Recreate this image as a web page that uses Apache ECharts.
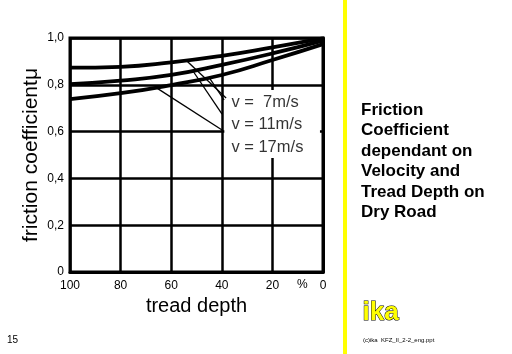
<!DOCTYPE html>
<html>
<head>
<meta charset="utf-8">
<script src="https://cdn.jsdelivr.net/npm/echarts@6/dist/echarts.min.js"></script>
<style>
  html, body { margin: 0; padding: 0; background: #fff; }
  #chart { width: 512px; height: 354px; }
</style>
</head>
<body>
<div id="chart"></div>
<script>
// tread depth in %
const treadDepth = [100, 80, 60, 40, 20, 0];
const mu7 = [0.873, 0.877, 0.896, 0.924, 0.960, 0.998];
const mu11 = [0.803, 0.818, 0.842, 0.885, 0.934, 0.989];
const mu17 = [0.739, 0.764, 0.799, 0.842, 0.906, 0.974];
const curveNames = ['v = 7m/s', 'v = 11m/s', 'v = 17m/s'];
const labelTexts = ['v =  7m/s', 'v = 11m/s', 'v = 17m/s'];
const labelAnchors = [[37, 0.725], [37, 0.632], [37, 0.534]];
// leader lines from the curves to the labels [[x0, y0], [x1, y1]]
const leaders = [
  [[53.8, 0.902], [38.3, 0.744]],
  [[45.1, 0.833], [39.1, 0.735]],
  [[51.4, 0.859], [39.9, 0.675]],
  [[66.4, 0.791], [39.9, 0.607]]
];
const yTicks = [0, 0.2, 0.4, 0.6, 0.8, 1.0];
const titleLines = ['Friction', 'Coefficient', 'dependant on', 'Velocity and', 'Tread Depth on', 'Dry Road'];

(function () {
  const font = '"Liberation Sans", Arial, sans-serif';
  const curves = [mu7, mu11, mu17];

  const series = curves.map((vals, i) => ({
    name: curveNames[i],
    type: 'line',
    smooth: true,
    showSymbol: false,
    z: 5,
    lineStyle: { color: '#000', width: 3.8 },
    data: treadDepth.map((t, j) => [t, vals[j]])
  }));

  leaders.forEach(seg => {
    series.push({
      type: 'line',
      showSymbol: false,
      silent: true,
      z: 4,
      lineStyle: { color: '#000', width: 1.3 },
      data: seg
    });
  });

  series.push({
    type: 'scatter',
    symbolSize: 0,
    z: 6,
    silent: true,
    data: labelAnchors.map((p, i) => ({ value: p, name: labelTexts[i] })),
    label: {
      show: true,
      position: 'right',
      distance: 2,
      formatter: p => p.name,
      color: '#000',
      fontFamily: font,
      fontSize: 16.5
    },
    markArea: {
      silent: true,
      itemStyle: { color: '#fff' },
      data: [[{ coord: [39, 0.778] }, { coord: [1.2, 0.487] }]]
    }
  });

  const option = {
    backgroundColor: '#fff',
    animation: false,
    grid: {
      left: 70, right: 189, top: 38, bottom: 82,
      show: true,
      borderColor: '#000',
      borderWidth: 3
    },
    xAxis: {
      type: 'value',
      inverse: true,
      min: 0, max: 100, interval: 20,
      name: 'tread depth',
      nameLocation: 'middle',
      nameGap: 22,
      nameTextStyle: { color: '#000', fontFamily: font, fontSize: 20 },
      axisLine: { lineStyle: { color: '#000', width: 3 } },
      axisTick: { show: false },
      axisLabel: { color: '#000', fontFamily: font, fontSize: 12, margin: 8 },
      splitLine: { lineStyle: { color: '#000', width: 2.5 } }
    },
    yAxis: {
      type: 'value',
      min: 0, max: 1, interval: 0.2,
      name: 'friction coefficientμ',
      nameLocation: 'middle',
      nameGap: 28,
      nameTextStyle: { color: '#000', fontFamily: font, fontSize: 21 },
      axisLine: { show: true, lineStyle: { color: '#000', width: 3 } },
      axisTick: { show: false },
      axisLabel: {
        color: '#000', fontFamily: font, fontSize: 12, margin: 6,
        formatter: v => {
          const t = yTicks.find(k => Math.abs(k - v) < 1e-6);
          return t === 0 ? '0' : (t !== undefined ? t : v).toFixed(1).replace('.', ',');
        }
      },
      splitLine: { lineStyle: { color: '#000', width: 2.5 } }
    },
    graphic: [
      { type: 'rect', shape: { x: 343, y: 0, width: 4, height: 354 }, style: { fill: '#ffff00' } },
      { type: 'text', left: 297, top: 279, style: { text: '%', fill: '#000', font: '12px ' + font } },
      {
        type: 'text', left: 361, top: 100,
        style: { text: titleLines.join('\n'), fill: '#000', font: 'bold 17px ' + font, lineHeight: 20.5 }
      },
      {
        type: 'text', left: 362, top: 299,
        style: { text: 'ika', fill: '#ffff00', stroke: '#000', lineWidth: 1, font: 'bold 26px ' + font }
      },
      { type: 'text', left: 363, top: 337, style: { text: '(c)ika  KFZ_II_2-2_eng.ppt', fill: '#000', font: '6px ' + font } },
      { type: 'text', left: 7, top: 335, style: { text: '15', fill: '#000', font: '10px ' + font } }
    ],
    series: series
  };

  const chart = echarts.init(document.getElementById('chart'));
  chart.setOption(option);
})();
</script>
</body>
</html>
